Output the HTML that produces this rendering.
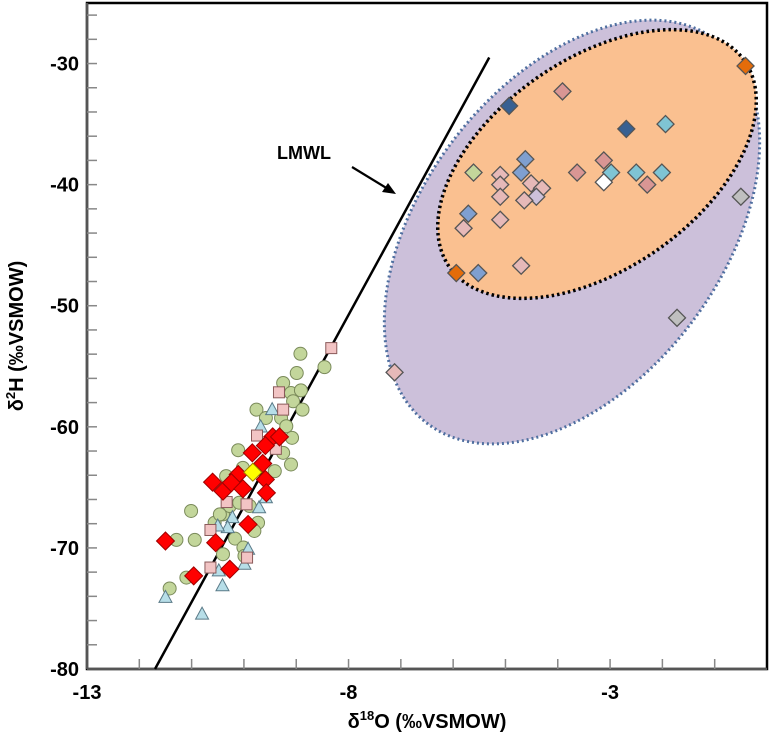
<!DOCTYPE html>
<html><head><meta charset="utf-8"><style>
html,body{margin:0;padding:0;background:#fff;}
svg{display:block;font-family:"Liberation Sans",sans-serif;}
</style></head><body>
<svg id="chart" width="773" height="747" viewBox="0 0 773 747" xmlns="http://www.w3.org/2000/svg"></svg>
<script>
// ---- data ----
const xTicks = [-13, -8, -3];
const yTicks = [-30, -40, -50, -60, -70, -80];
const lmwlX = [-11.70, -5.31];
const lmwlY = [-80, -29.5];

const greenX = [-8.92,-8.99,-8.46,-9.25,-9.10,-8.91,-9.06,-8.88,-9.76,-9.58,-9.29,-9.19,-9.08,-10.11,-9.25,-9.10,-9.41,-10.34,-10.02,-11.01,-10.40,-9.73,-9.80,-10.27,-11.29,-10.94,-10.17,-10.01,-9.99,-10.40,-11.10,-11.42,-10.56,-10.46,-10.09,-9.89];
const greenY = [-53.97,-55.56,-55.07,-56.38,-57.21,-56.99,-57.89,-58.58,-58.58,-59.27,-59.27,-59.95,-60.91,-61.93,-62.15,-63.11,-63.66,-64.07,-63.39,-66.95,-67.23,-67.92,-68.60,-66.54,-69.34,-69.34,-69.23,-69.97,-70.66,-70.52,-72.45,-73.35,-67.92,-67.23,-66.27,-66.54];

const squareX = [-8.33,-9.33,-9.25,-9.75,-9.39,-10.33,-9.95,-10.64,-9.94,-10.64];
const squareY = [-53.50,-57.15,-58.58,-60.72,-61.82,-66.21,-66.40,-68.52,-70.80,-71.62];

const triX = [-9.46,-9.68,-9.71,-9.58,-10.22,-10.31,-10.50,-9.99,-10.48,-10.41,-11.50,-10.80,-9.92];
const triY = [-58.58,-60.01,-66.68,-65.86,-67.50,-68.33,-68.19,-71.35,-71.90,-73.13,-74.09,-75.47,-70.11];

const redX = [-9.45,-9.32,-9.59,-9.84,-9.64,-9.59,-10.11,-10.60,-10.40,-10.24,-10.02,-9.57,-9.92,-10.54,-11.50,-10.96,-10.27];
const redY = [-60.83,-60.83,-61.55,-62.15,-63.03,-64.35,-63.94,-64.57,-65.31,-64.62,-65.12,-65.45,-68.06,-69.57,-69.43,-72.31,-71.76];
const yellowX = [-9.83];
const yellowY = [-63.75];

const diaX = [-0.41,-3.91,-4.93,-2.69,-1.94,-5.61,-4.62,-4.70,-5.10,-5.10,-5.10,-4.51,-4.30,-4.41,-4.64,-3.63,-3.12,-2.98,-3.12,-2.50,-2.01,-2.29,-0.50,-5.71,-5.80,-5.10,-5.94,-5.52,-4.70,-1.72,-7.12];
const diaY = [-30.2,-32.3,-33.5,-35.4,-35.0,-39.0,-37.9,-39.0,-39.2,-40.0,-41.0,-39.9,-40.3,-41.0,-41.3,-39.0,-38.0,-39.0,-39.8,-39.0,-39.0,-40.0,-41.0,-42.4,-43.6,-42.9,-47.3,-47.3,-46.7,-51.0,-55.5];
const diaColor = ['#E46C0A','#D99694','#376092','#376092','#7FC4D4','#C3D69B','#7F9FD0','#7F9FD0','#E6B9B8','#E6B9B8','#E6B9B8','#E6B9B8','#E6B9B8','#CCC1DA','#E6B9B8','#D99694','#D99694','#7FC4D4','#FFFFFF','#7FC4D4','#7FC4D4','#D99694','#BFBFBF','#7F9FD0','#E6B9B8','#E6B9B8','#E46C0A','#7F9FD0','#E6B9B8','#BFBFBF','#E6B9B8'];

// ---- scales ----
const X0=87, X1=767, Y0=669, Y1=3;
const xMin=-13, xMax=0, yMin=-80, yMax=-25;
const sx = v => X0 + (v - xMin) / (xMax - xMin) * (X1 - X0);
const sy = v => Y0 - (v - yMin) / (yMax - yMin) * (Y0 - Y1);

const svg = document.getElementById('chart');
const NS = 'http://www.w3.org/2000/svg';
function mk(tag, attrs, parent){
  const e = document.createElementNS(NS, tag);
  for (const k in attrs) e.setAttribute(k, attrs[k]);
  (parent||svg).appendChild(e);
  return e;
}

// ellipses
const outer = mk('ellipse',{cx:572,cy:232,rx:240,ry:150,transform:'rotate(-53 572 232)',fill:'#CCC0DA',stroke:'#4F6FA0','stroke-width':3,'stroke-dasharray':'2 3'});


const inner = mk('ellipse',{cx:597,cy:164,rx:180,ry:105,transform:'rotate(-35 597 164)',fill:'#FAC090',stroke:'#000','stroke-width':3.5,'stroke-dasharray':'2.5 3'});



// frame & axes
const frame = mk('rect',{x:X0,y:Y1,width:X1-X0,height:Y0-Y1,fill:'none',stroke:'#000','stroke-width':2.5});


const yAxis = mk('line',{x1:X0,y1:Y1,x2:X0,y2:Y0,stroke:'#555','stroke-width':2.5});


const xAxis = mk('line',{x1:X0,y1:Y0,x2:X1,y2:Y0,stroke:'#555','stroke-width':2.5});



// minor ticks
for (let v = -79; v <= -26; v += 2) {} // placeholder (no-op)
for (let v = yMin + 2; v < yMax; v += 2) {
  const t = mk('line',{x1:X0,x2:X0+10,y1:sy(v),y2:sy(v),stroke:'#888','stroke-width':1.5});
  
  
}
for (let v = xMin + 1; v < xMax; v += 1) {
  const t = mk('line',{x1:sx(v),x2:sx(v),y1:Y0,y2:Y0-10,stroke:'#888','stroke-width':1.5});
  
  
}
yTicks.forEach(v => {
  const t = mk('text',{x:X0-8,y:sy(v)+7,'text-anchor':'end','font-size':20,'font-weight':'bold',fill:'#000'});
  t.textContent = v;
  
  
});
xTicks.forEach(v => {
  const t = mk('text',{x:sx(v),y:Y0+30,'text-anchor':'middle','font-size':20,'font-weight':'bold',fill:'#000'});
  t.textContent = v;
  
  
});

// LMWL
const lm = mk('line',{x1:sx(lmwlX[0]),y1:sy(lmwlY[0]),x2:sx(lmwlX[1]),y2:sy(lmwlY[1]),stroke:'#000','stroke-width':2.5});



// markers
const g = mk('g',{});


greenX.forEach((x,i) => {
  const c = mk('circle',{cx:sx(x),cy:sy(greenY[i]),r:6.5,fill:'#C3D69B',stroke:'#7a8a5a','stroke-width':1},g);
  
  
});
triX.forEach((x,i) => {
  const px=sx(x), py=sy(triY[i]);
  const p = mk('polygon',{points:`${px},${py-7} ${px-6.5},${py+5} ${px+6.5},${py+5}`,fill:'#B7DEE8',stroke:'#5a7a88','stroke-width':1},g);
  
  
});
squareX.forEach((x,i) => {
  const r = mk('rect',{x:sx(x)-5.5,y:sy(squareY[i])-5.5,width:11,height:11,fill:'#F2C4C4',stroke:'#8a5a5a','stroke-width':1},g);
  
  
});
function diamond(x,y,h,fill,stroke,sw){
  return mk('polygon',{points:`${x},${y-h} ${x+h},${y} ${x},${y+h} ${x-h},${y}`,fill:fill,stroke:stroke,'stroke-width':sw},g);
}
redX.forEach((x,i) => {
  const d = diamond(sx(x),sy(redY[i]),9,'#FF0000','#A00000',1);
  
  
});
yellowX.forEach((x,i) => {
  const d = diamond(sx(x),sy(yellowY[i]),9,'#FFFF00','#A08000',1);
  
  
});
diaX.forEach((x,i) => {
  const d = diamond(sx(x),sy(diaY[i]),8.5,diaColor[i],'#555',1.3);
  
  
});

// annotation
const lbl = mk('text',{x:277,y:159,'font-size':18,'font-weight':'bold',fill:'#000'});
lbl.textContent = 'LMWL';


const arr = mk('line',{x1:352,y1:167,x2:388,y2:189,stroke:'#000','stroke-width':2.2});


const head = mk('polygon',{points:'396,194 382,192 388,183',fill:'#000'});



// axis titles
const xt = mk('text',{x:427,y:728,'text-anchor':'middle','font-size':20,'font-weight':'bold',fill:'#000'});
xt.innerHTML = 'δ<tspan font-size="13" dy="-8">18</tspan><tspan dy="8">O (‰VSMOW)</tspan>';


const yt = mk('text',{x:0,y:0,'text-anchor':'middle','font-size':20,'font-weight':'bold',fill:'#000',transform:'translate(23 336) rotate(-90)'});
yt.innerHTML = 'δ<tspan font-size="13" dy="-8">2</tspan><tspan dy="8">H (‰VSMOW)</tspan>';


</script>
</body></html>
